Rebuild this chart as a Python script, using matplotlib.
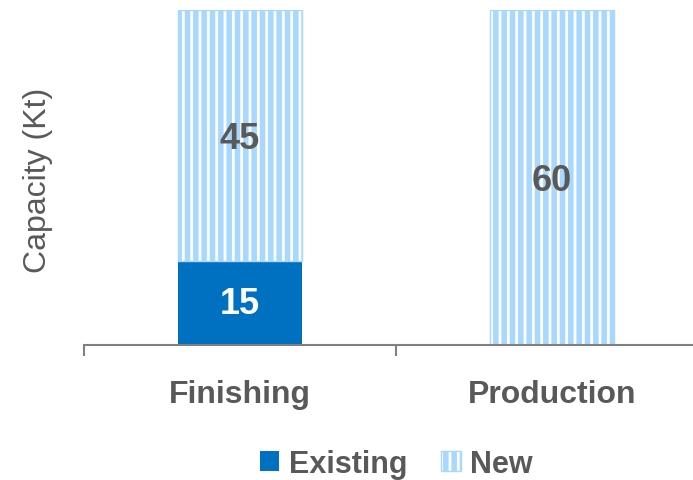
import matplotlib
matplotlib.use("Agg")
import matplotlib.pyplot as plt
from matplotlib.patches import Patch

categories = ["Finishing", "Production"]
existing = [15, 0]
new = [45, 60]
series_names = ["Existing", "New"]

plt.rcParams['font.family'] = ['Liberation Sans', 'DejaVu Sans']
plt.rcParams['hatch.linewidth'] = 4.0

fig = plt.figure(figsize=(6.93, 4.81), dpi=100)
ax = fig.add_axes([84/693, 1-346/481, 624/693, 335/481])

gray = '#595959'
blue = '#0070C0'
light = '#A9D8FF'
x = range(len(categories))
w = 0.4
ax.bar(x, existing, width=w, color=blue, edgecolor='none')
ax.bar(x, new, width=w, bottom=existing, facecolor='white', edgecolor=light, hatch='||', linewidth=0)
ax.bar(x, new, width=w, bottom=existing, facecolor='none', edgecolor=light, linewidth=1)

for i in x:
    if existing[i] > 0:
        ax.text(i, existing[i]/2, str(existing[i]), ha='center', va='center', color='white',
                fontsize=26, fontweight='bold')
    ax.text(i, existing[i] + new[i]/2 - 0.5, str(new[i]), ha='center', va='center', color=gray,
            fontsize=26, fontweight='bold')

ax.set_xlim(-0.5, 1.5)
ax.set_ylim(0, 60)
for s in ['top', 'right', 'left']:
    ax.spines[s].set_visible(False)
ax.spines['bottom'].set_color('#808080')
ax.spines['bottom'].set_linewidth(1.5)
ax.set_yticks([])
ax.set_xticks([-0.5, 0.5, 1.5], minor=False)
ax.set_xticklabels([])
ax.tick_params(axis='x', length=8, color='#808080', width=1.5, direction='out')
for i, c in zip(x, categories):
    ax.text(i, -8.8, c, ha='center', va='center', color=gray, fontsize=23, fontweight='bold',
            transform=ax.transData, clip_on=False)

fig.text(38/693, 1-180/481, "Capacity (Kt)", rotation=90, ha='center', va='center',
         color=gray, fontsize=23)

handles = [Patch(facecolor=blue, edgecolor='none', label=series_names[0]),
           Patch(facecolor='white', edgecolor=light, hatch='||', label=series_names[1])]
leg = fig.legend(handles=handles, loc='center', bbox_to_anchor=(396/693, 1-465/481), ncol=2,
                 frameon=False, fontsize=22, handlelength=0.65, handleheight=0.65,
                 handletextpad=0.3, columnspacing=1.1)
for t in leg.get_texts():
    t.set_color(gray)
    t.set_fontweight('bold')

fig.savefig("out.png", dpi=100)
